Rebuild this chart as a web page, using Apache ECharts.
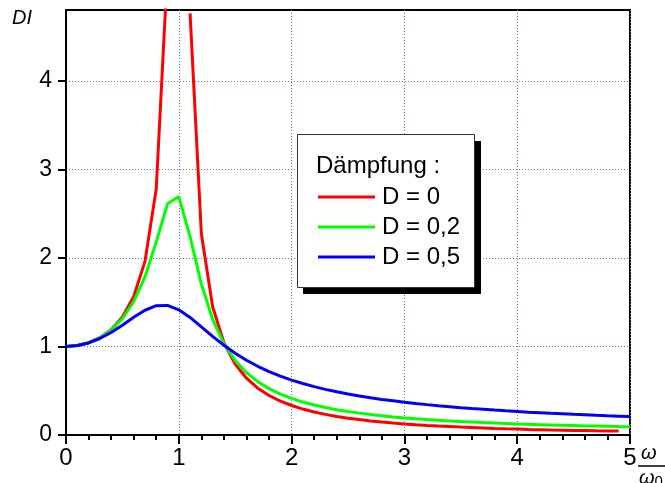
<!DOCTYPE html>
<html>
<head>
<meta charset="utf-8">
<script src="https://cdn.jsdelivr.net/npm/echarts@6/dist/echarts.min.js"></script>
<style>
html,body{margin:0;padding:0;background:#fff;}
#c{width:665px;height:483px;}
</style>
</head>
<body>
<div id="c"></div>
<script>
// frequency ratio omega/omega0
var xValues = [0,0.1,0.2,0.3,0.4,0.5,0.6,0.7,0.8,0.9,1.0,1.1,1.2,1.3,1.4,1.5,1.6,1.7,1.8,1.9,2.0,
  2.1,2.2,2.3,2.4,2.5,2.6,2.7,2.8,2.9,3.0,3.1,3.2,3.3,3.4,3.5,3.6,3.7,3.8,3.9,4.0,
  4.1,4.2,4.3,4.4,4.5,4.6,4.7,4.8,4.9,5.0];
// D = 0
var d0 = [1.00,1.01,1.042,1.099,1.19,1.333,1.563,1.961,2.778,5.263,null,4.762,2.273,1.449,1.042,0.80,0.641,0.529,0.446,0.383,0.333,
  0.293,0.260,0.233,0.210,0.190,0.174,0.159,0.146,0.135,0.125,0.116,0.108,0.101,0.095,0.089,0.084,0.079,0.074,0.070,0.067,
  0.063,0.060,0.057,0.055,0.052,0.050,0.047,0.045,0.044,null];
// D = 0,2
var d02 = [1.00,1.01,1.041,1.097,1.184,1.314,1.505,1.785,2.18,2.611,2.693,2.241,1.704,1.305,1.031,0.841,0.704,0.602,0.524,0.462,0.413,
  0.372,0.338,0.310,0.286,0.265,0.247,0.231,0.217,0.204,0.193,0.183,0.174,0.166,0.159,0.152,0.146,0.140,0.135,0.130,0.125,
  0.121,0.117,0.113,0.110,0.107,0.103,0.101,0.098,0.095,0.093];
// D = 0,5
var d05 = [1.00,1.01,1.04,1.09,1.158,1.24,1.329,1.409,1.46,1.463,1.414,1.328,1.222,1.114,1.014,0.923,0.844,0.776,0.717,0.665,0.620,
  0.581,0.546,0.515,0.488,0.463,0.441,0.421,0.402,0.386,0.370,0.356,0.343,0.331,0.320,0.309,0.299,0.290,0.281,0.273,0.266,
  0.258,0.252,0.245,0.239,0.233,0.228,0.222,0.217,0.213,0.208];
var seriesNames = ['D = 0','D = 0,2','D = 0,5'];
var seriesColors = ['#ff0000','#00ff00','#0000ff'];
var yTicks = [0,1,2,3,4];
var xTicks = [0,1,2,3,4,5];

function pairs(arr){ return xValues.map(function(x,i){ return [x, arr[i]]; }); }
var allData = [d0,d02,d05];

var chart = echarts.init(document.getElementById('c'), null, {renderer:'canvas'});
var font = 'Liberation Sans, Arial, sans-serif';
chart.setOption({
  animation:false,
  grid:{left:66, right:35, top:10, bottom:48, show:true, borderColor:'#000', borderWidth:2, containLabel:false},
  xAxis:{
    type:'value', min:0, max:5, interval:1,
    axisLine:{show:true, onZero:false, lineStyle:{color:'#000', width:2}},
    axisTick:{show:true, length:9, lineStyle:{color:'#000', width:2}},
    minorTick:{show:true, splitNumber:5, length:5, lineStyle:{color:'#000', width:2}},
    axisLabel:{color:'#000', fontSize:24, fontFamily:font, margin:11},
    splitLine:{show:true, lineStyle:{color:'#6a6aff', width:1, type:[1,2]}}
  },
  yAxis:{
    type:'value', min:0, max:4.8, interval:1,
    axisLine:{show:true, lineStyle:{color:'#000', width:2}},
    axisTick:{show:true, length:8, customValues:yTicks, lineStyle:{color:'#000', width:2}},
    axisLabel:{color:'#000', fontSize:23, fontFamily:font, margin:14, customValues:yTicks},
    splitLine:{show:true, lineStyle:{color:'#6a6aff', width:1, type:[1,2]}}
  },
  legend:{
    show:true, orient:'vertical', left:313, top:180, z:20,
    icon:'rect', itemWidth:57, itemHeight:3, itemGap:6,
    textStyle:{color:'#000', fontSize:24, fontFamily:font, padding:[0,0,0,2]},
    data:seriesNames
  },
  graphic:[
    {type:'rect', z:10, shape:{x:303, y:141, width:178, height:153}, style:{fill:'#000'}},
    {type:'rect', z:11, shape:{x:297.5, y:134.5, width:177, height:153}, style:{fill:'#fff', stroke:'#333', lineWidth:1}},
    {type:'text', z:12, left:316, top:154, style:{text:'Dämpfung :', fill:'#000', font:'24px Liberation Sans, Arial, sans-serif'}},
    {type:'text', z:12, left:12, top:8, style:{text:'DI', fill:'#000', font:'italic 20px Liberation Sans, Arial, sans-serif'}},
    {type:'text', z:12, left:641, top:443, style:{text:'ω', fill:'#000', font:'italic 20px Liberation Sans, Arial, sans-serif'}},
    {type:'line', z:12, shape:{x1:638, y1:466, x2:665, y2:466}, style:{stroke:'#000', lineWidth:1.5}},
    {type:'text', z:12, left:639, top:468, style:{
      text:'{w|ω}{s|0}', fill:'#000',
      rich:{w:{fontSize:20, fontStyle:'italic', fontFamily:font, fill:'#000'}, s:{fontSize:15, fontFamily:font, fill:'#000', verticalAlign:'bottom', padding:[8,0,0,0]}}
    }}
  ],
  series: allData.map(function(arr,i){
    return {
      name:seriesNames[i], type:'line', data:pairs(arr), showSymbol:false, symbol:'none',
      connectNulls:false, clip:true, z:3, color:seriesColors[i],
      lineStyle:{color:seriesColors[i], width:3}
    };
  })
});
</script>
</body>
</html>
